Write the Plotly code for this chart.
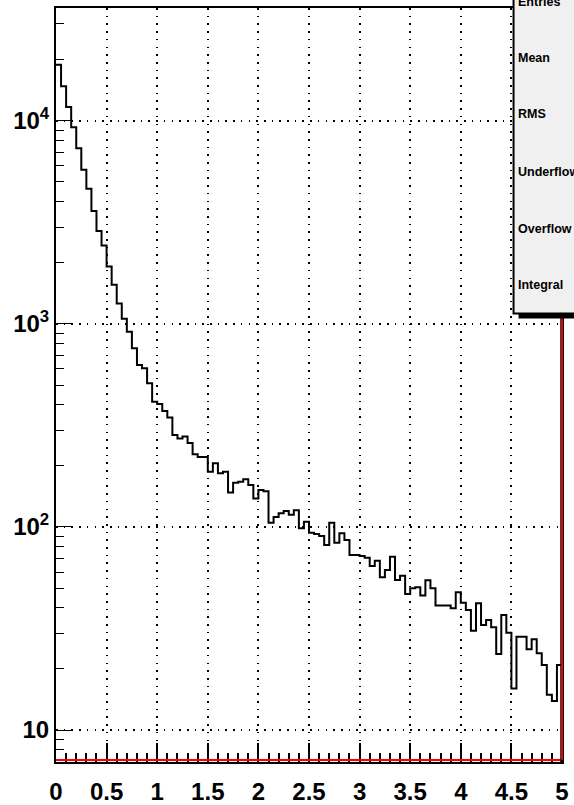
import plotly.graph_objects as go

# ---- data ----
bin_edges = [round(i * 0.05, 2) for i in range(101)]
counts = [
    18900, 14800, 11700, 9310, 7330, 5740, 4630, 3600, 2870, 2430,
    1920, 1560, 1260, 1060, 916, 759, 628, 605, 511, 414,
    403, 373, 346, 284, 273, 279, 259, 228, 221, 221,
    187, 206, 184, 187, 148, 165, 167, 172, 161, 138,
    152, 150, 105, 112, 117, 120, 115, 121, 98.6, 106,
    93.7, 92.4, 90.3, 81.5, 105, 83.7, 93.1, 86.3, 72.8, 72.8,
    72, 70.6, 64.3, 68.2, 56.5, 61.4, 71.4, 54.8, 57.5, 46.8,
    49.9, 50.5, 46, 54.6, 49.9, 41, 41, 41, 39.8, 47.7,
    42.4, 39, 30.8, 42.1, 32.9, 34.8, 32.1, 23.7, 36.9, 30.1,
    16, 28.8, 28.8, 25, 28, 23.9, 20.9, 14.9, 13.9, 20.9,
]
x_tickvals = [0, 0.5, 1, 1.5, 2, 2.5, 3, 3.5, 4, 4.5, 5]
x_ticktext = ["0", "0.5", "1", "1.5", "2", "2.5", "3", "3.5", "4", "4.5", "5"]
x_minor_ticks = [round(i * 0.1, 1) for i in range(51)]
y_tickvals = [10, 100, 1000, 10000]
y_ticktext = ["10", "10<sup>2</sup>", "10<sup>3</sup>", "10<sup>4</sup>"]
stats_labels = ["Entries", "Mean", "RMS", "Underflow", "Overflow", "Integral"]

W, H = 574, 805
L, R, T, B = 56, 11.5, 8, 43
pw, ph = W - L - R, H - T - B

def px_x(p):
    return (p - L) / pw

def px_y(p):
    return (H - B - p) / ph

y_minor = [m * 10 ** k for k in range(0, 5) for m in range(2, 10)]

FONT = "Liberation Sans, Arial, Helvetica, sans-serif"

fig = go.Figure()
fig.add_trace(go.Scatter(
    x=bin_edges,
    y=counts + [counts[-1]],
    mode="lines",
    line=dict(shape="hv", color="black", width=2),
    showlegend=False,
    hoverinfo="skip",
))

shapes = [
    # red line along bottom and right edge
    dict(type="line", xref="paper", yref="paper", x0=0, x1=1, y0=px_y(760), y1=px_y(760),
         line=dict(color="#ff0000", width=2), layer="above"),
    dict(type="line", xref="paper", yref="paper", x0=1, x1=1, y0=0, y1=1,
         line=dict(color="black", width=3.5), layer="above"),
    dict(type="line", xref="paper", yref="paper", x0=1, x1=1, y0=px_y(760), y1=1,
         line=dict(color="#ff0000", width=1.8), layer="above"),
    # stats box shadow
    dict(type="rect", xref="paper", yref="paper", x0=px_x(519), x1=px_x(600),
         y0=px_y(318.5), y1=px_y(300), fillcolor="black", line=dict(width=0), layer="above"),
    # stats box
    dict(type="rect", xref="paper", yref="paper", x0=px_x(514), x1=px_x(590),
         y0=px_y(313.5), y1=px_y(-10), fillcolor="#f0f0f0",
         line=dict(color="black", width=2), layer="above"),
]

label_y = [1.5, 58.3, 114, 171.7, 228.7, 285]
annotations = []
for lab, py in zip(stats_labels, label_y):
    annotations.append(dict(
        text=lab, xref="paper", yref="paper", x=px_x(516), y=px_y(py),
        xanchor="left", yanchor="middle", showarrow=False,
        font=dict(family=FONT, size=12.5, color="black", weight="bold"),
    ))

axis_common = dict(
    showline=True, linecolor="black", linewidth=2, mirror=True,
    ticks="inside", tickcolor="black",
    showgrid=True, gridcolor="black", gridwidth=1.5, griddash="1.6px,6.1px",
    zeroline=False, automargin=False,
    tickfont=dict(family=FONT, size=24, color="black", weight="bold"),
)

fig.update_layout(
    width=W, height=H,
    margin=dict(l=L, r=R, t=T, b=B, pad=0, autoexpand=False),
    paper_bgcolor="white", plot_bgcolor="white",
    showlegend=False,
    shapes=shapes,
    annotations=annotations,
    xaxis=dict(
        range=[0, 5], tickmode="array", tickvals=x_tickvals, ticktext=x_ticktext,
        ticklen=19, tickwidth=1.5, ticklabelstandoff=7,
        minor=dict(ticks="inside", ticklen=9, tickvals=x_minor_ticks, tickcolor="black",
                   tickwidth=1.5, showgrid=False),
        **axis_common,
    ),
    yaxis=dict(
        type="log", range=[0.8426, 4.5558], tickmode="array",
        tickvals=y_tickvals, ticktext=y_ticktext, ticklen=16, tickwidth=1.3,
        minor=dict(ticks="inside", ticklen=8, tickvals=y_minor, tickcolor="black",
                   tickwidth=1.3, showgrid=False),
        **axis_common,
    ),
)

fig.write_html(
    "out.html",
    config={"displayModeBar": False},
    post_script="document.body.style.margin='0px';document.body.style.overflow='hidden';",
)
